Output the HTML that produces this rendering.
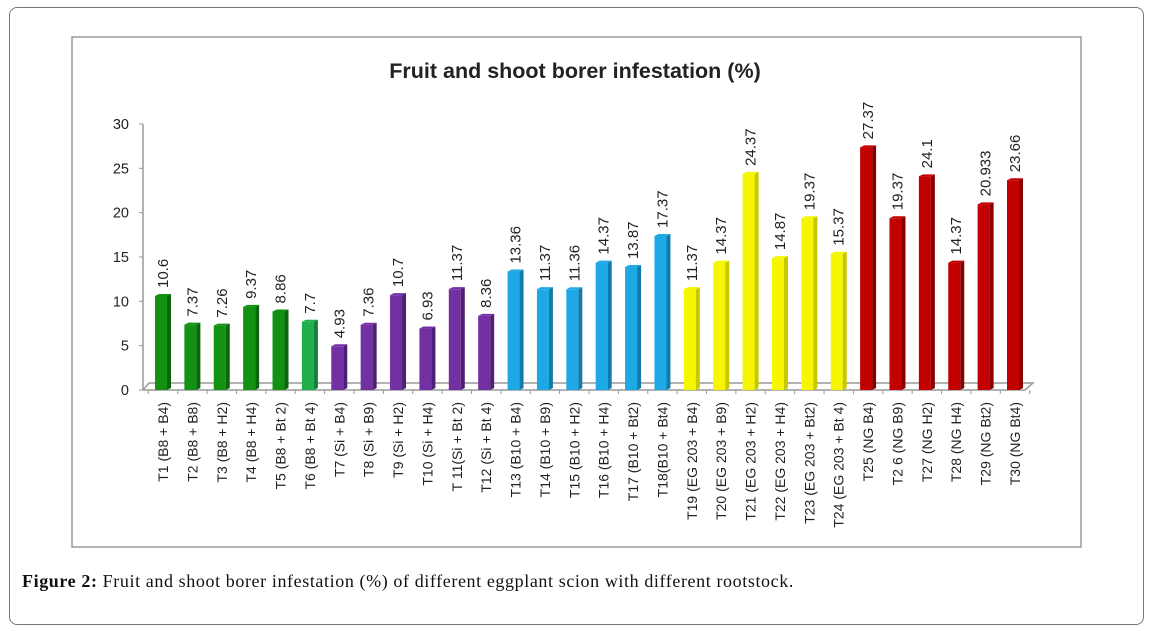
<!DOCTYPE html>
<html><head><meta charset="utf-8"><style>
body{margin:0;background:#fff;width:1151px;height:631px;overflow:hidden;position:relative;font-family:"Liberation Sans",sans-serif}
#frame{position:absolute;left:9px;top:7px;width:1135px;height:618px;border:1px solid #777;border-radius:8px;box-sizing:border-box}
#caption{position:absolute;left:22px;top:571px;font-family:"Liberation Serif",serif;font-size:18px;letter-spacing:0.6px;color:#111}
</style></head><body>
<div id="frame"></div>
<svg id="chart" width="1151" height="631" style="position:absolute;left:0;top:0">
<rect x="72" y="37" width="1009" height="510" fill="#fff" stroke="#999" stroke-width="1.5"/>
<text x="575" y="78" text-anchor="middle" font-size="21.5" font-weight="bold" fill="#222">Fruit and shoot borer infestation (%)</text>
<g id="axes"></g><g id="bars"></g>
</svg>
<div id="caption"><b>Figure 2:</b> Fruit and shoot borer infestation (%) of different eggplant scion with different rootstock.</div>
<script>
const categories=["T1  (B8 + B4)","T2 (B8 + B8)","T3  (B8 + H2)","T4 (B8 + H4)","T5 (B8 + Bt 2)","T6 (B8 + Bt 4)","T7  (Si + B4)","T8  (Si + B9)","T9  (Si + H2)","T10  (Si + H4)","T 11(Si + Bt 2)","T12  (Si + Bt 4)","T13 (B10 + B4)","T14 (B10 + B9)","T15 (B10 + H2)","T16  (B10 + H4)","T17  (B10 + Bt2)","T18(B10 + Bt4)","T19 (EG 203 + B4)","T20 (EG 203 + B9)","T21 (EG 203 + H2)","T22 (EG 203 + H4)","T23 (EG 203 + Bt2)","T24 (EG 203 + Bt 4)","T25 (NG B4)","T2 6 (NG B9)","T27 (NG H2)","T28 (NG H4)","T29 (NG Bt2)","T30  (NG Bt4)"];
const values=[10.6,7.37,7.26,9.37,8.86,7.7,4.93,7.36,10.7,6.93,11.37,8.36,13.36,11.37,11.36,14.37,13.87,17.37,11.37,14.37,24.37,14.87,19.37,15.37,27.37,19.37,24.1,14.37,20.933,23.66];
const valueLabels=["10.6","7.37","7.26","9.37","8.86","7.7","4.93","7.36","10.7","6.93","11.37","8.36","13.36","11.37","11.36","14.37","13.87","17.37","11.37","14.37","24.37","14.87","19.37","15.37","27.37","19.37","24.1","14.37","20.933","23.66"];
const groups=[0,0,0,0,0,1,2,2,2,2,2,2,3,3,3,3,3,3,4,4,4,4,4,4,5,5,5,5,5,5];
const yTicks=[0,5,10,15,20,25,30];
const palette=[["#129112","#0b650b"],["#1fae4a","#148036"],["#7330a3","#4e1f72"],["#1ea9e6","#137bac"],["#f6f600","#c8c800"],["#c30000","#8a0000"]];
const NS="http://www.w3.org/2000/svg";
const y0=390,y30=124,xFirst=163,xLast=1015;
const yS=v=>y0-(v/30)*(y0-y30);
const xS=i=>xFirst+i*(xLast-xFirst)/(categories.length-1);
function mk(tag,attrs,parent){const e=document.createElementNS(NS,tag);for(const k in attrs)e.setAttribute(k,attrs[k]);parent.appendChild(e);return e;}
const ax=document.getElementById('axes'),bg=document.getElementById('bars');
let e;
e=mk('line',{x1:143,y1:y30,x2:143,y2:y0,stroke:'#999','stroke-width':1.5},ax);


e=mk('polyline',{points:`143,${y0} 149,383 1033,383 1025,${y0} 143,${y0}`,fill:'none',stroke:'#999','stroke-width':1.5},ax);


yTicks.forEach(t=>{
  mk('line',{x1:139,y1:yS(t),x2:143,y2:yS(t),stroke:'#999'},ax);
  e=mk('text',{x:129,y:yS(t)+5,'text-anchor':'end','font-size':14.5,fill:'#222'},ax);
  e.textContent=t;
  
  
});
const step=(xLast-xFirst)/(categories.length-1);
for(let i=0;i<=categories.length;i++){const x=xFirst-step/2+i*step;mk('line',{x1:x,y1:y0,x2:x,y2:y0+4,stroke:'#999'},ax);}
values.forEach((v,i)=>{
  const c=palette[groups[i]],cx=xS(i),top=yS(v),w=12,d=4;
  const g=mk('g',{},bg);
  
  
  mk('rect',{x:cx-w/2-2,y:top,width:w,height:y0-top,fill:c[0]},g);
  mk('polygon',{points:`${cx+w/2-2},${top} ${cx+w/2-2+d},${top-2} ${cx+w/2-2+d},${y0-2} ${cx+w/2-2},${y0}`,fill:c[1]},g);
  mk('polygon',{points:`${cx-w/2-2},${top} ${cx-w/2+2},${top-2} ${cx+w/2-2+d},${top-2} ${cx+w/2-2},${top}`,fill:c[0]},g);
  const lt=mk('text',{transform:`translate(${cx+5},${top-8}) rotate(-90)`,'font-size':15,fill:'#222'},bg);
  lt.textContent=valueLabels[i];
  
  
  const ct=mk('text',{transform:`translate(${cx+5},${y0+12}) rotate(-90)`,'text-anchor':'end','font-size':14,fill:'#222'},bg);
  ct.textContent=categories[i];
  
  
});
</script>
</body></html>
